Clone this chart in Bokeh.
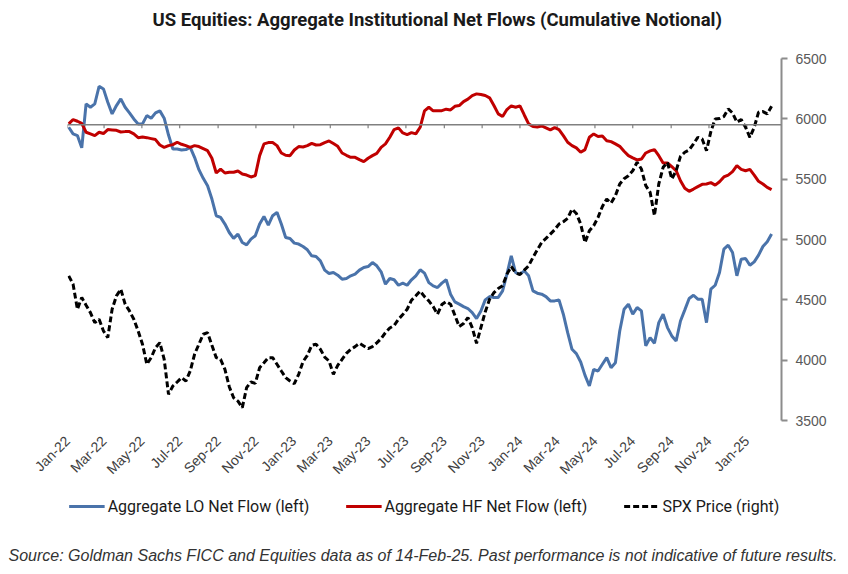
import pandas as pd
from bokeh.plotting import figure
from bokeh.layouts import column
from bokeh.models import (Range1d, LinearAxis, Legend, LegendItem, Title,
                          FixedTicker, DatetimeTickFormatter, Span)
from bokeh.embed import file_html
from bokeh.resources import INLINE

# ---------------- data (weekly) ----------------
start_date = "2022-01-03"
n_weeks = 163
# left-axis values (cumulative notional, zero = horizontal reference line)
lo_flow = [-20, -75, -89, -190, 174, 146, 174, 320, 298, 188, 91, 160, 215, 146, 99, 49, 8, 8, 77, 55,
           99, 116, 55, -84, -200, -200, -208, -205, -186, -269, -371, -443, -504, -615, -753, -767, -822, -892, -941, -905,
           -975, -994, -947, -919, -822, -759, -831, -753, -725, -822, -933, -941, -980, -988, -1008, -1035, -1085, -1091, -1127, -1204,
           -1232, -1224, -1246, -1279, -1273, -1251, -1237, -1204, -1182, -1174, -1141, -1168, -1218, -1320, -1273, -1284, -1329, -1312, -1329, -1284,
           -1251, -1201, -1229, -1307, -1334, -1348, -1312, -1284, -1403, -1467, -1486, -1506, -1522, -1556, -1605, -1542, -1450, -1423, -1431, -1430,
           -1376, -1237, -1085, -1224, -1237, -1210, -1251, -1376, -1395, -1403, -1423, -1459, -1459, -1450, -1569, -1722, -1860, -1896, -1965, -2076,
           -2164, -2026, -2040, -1984, -1929, -2012, -1971, -1708, -1528, -1486, -1569, -1514, -1542, -1832, -1763, -1810, -1639, -1569, -1680, -1749,
           -1791, -1625, -1533, -1439, -1412, -1445, -1445, -1639, -1362, -1329, -1224, -1030, -997, -1058, -1251, -1113, -1107, -1163, -1135, -1080,
           -1008, -969, -905]
hf_flow = [8, 44, 30, 13, -61, -75, -89, -61, -72, -39, -42, -45, -59, -56, -56, -75, -106, -100, -106, -114,
           -122, -167, -186, -172, -164, -144, -161, -172, -186, -172, -180, -197, -214, -277, -399, -366, -399, -393, -393, -382,
           -407, -416, -432, -421, -255, -158, -147, -147, -172, -233, -252, -255, -208, -180, -183, -172, -153, -167, -164, -147,
           -133, -155, -178, -233, -252, -269, -269, -288, -305, -277, -255, -236, -186, -158, -103, -39, -25, -67, -81, -64,
           -75, -20, 116, 146, 116, 116, 118, 130, 124, 154, 160, 193, 213, 243, 257, 251, 243, 224, 160, 91,
           69, 127, 157, 146, 157, 82, 8, -14, -17, -9, -25, -42, -23, -39, -89, -144, -172, -191, -227, -205,
           -103, -75, -97, -92, -131, -139, -158, -178, -219, -255, -274, -291, -283, -233, -216, -205, -255, -316, -316, -346,
           -380, -463, -526, -551, -532, -512, -493, -490, -479, -499, -471, -432, -416, -388, -338, -369, -380, -369, -416, -468,
           -490, -518, -537]
# right-axis values (S&P 500 price)
spx_price = [4699, 4630, 4422, 4519, 4455, 4394, 4311, 4339, 4242, 4187, 4422, 4533, 4588, 4464, 4408, 4339, 4242, 4132, 3966, 4021,
             4104, 4145, 4007, 3716, 3786, 3819, 3855, 3827, 3910, 4049, 4132, 4215, 4228, 4123, 4021, 4007, 3924, 3780, 3689, 3661,
             3606, 3772, 3819, 3808, 3938, 3979, 4021, 4021, 3966, 3910, 3855, 3827, 3805, 3883, 3988, 4040, 4123, 4132, 4090, 4026,
             3993, 3883, 3957, 4007, 4057, 4090, 4112, 4140, 4118, 4096, 4112, 4143, 4179, 4228, 4267, 4287, 4339, 4378, 4422, 4497,
             4533, 4572, 4527, 4491, 4444, 4381, 4461, 4486, 4464, 4372, 4278, 4303, 4353, 4270, 4140, 4270, 4400, 4505, 4560, 4594,
             4616, 4713, 4776, 4724, 4710, 4746, 4782, 4851, 4915, 4975, 5009, 5045, 5081, 5128, 5147, 5175, 5252, 5216, 5128, 4975,
             5072, 5114, 5183, 5274, 5335, 5302, 5363, 5460, 5504, 5529, 5570, 5640, 5584, 5446, 5391, 5197, 5460, 5598, 5640, 5501,
             5570, 5689, 5723, 5742, 5792, 5847, 5833, 5736, 5894, 5999, 6002, 6019, 6082, 6049, 5972, 5994, 5930, 5847, 5930, 6055,
             6060, 6041, 6104]

spx_ticks = [3500, 4000, 4500, 5000, 5500, 6000, 6500]
left_range = (-2450, 550)          # left axis span (hidden); 0 = reference line
right_range = (3500, 6500)
x_start, x_end = "2022-01-01", "2025-02-26"
tick_start, tick_end = "2022-01-01", "2025-01-01"

series_names = ["Aggregate LO Net Flow (left)", "Aggregate HF Net Flow (left)", "SPX Price (right)"]
series_colors = ["#4a73aa", "#c00000", "black"]
title_text = "US Equities: Aggregate Institutional Net Flows (Cumulative Notional)"
source_text = ("Source: Goldman Sachs FICC and Equities data as of 14-Feb-25. "
               "Past performance is not indicative of future results.")

# ---------------- chart ----------------
dates = pd.date_range(start_date, periods=n_weeks, freq="7D")
tick_dates = pd.date_range(tick_start, tick_end, freq="2MS")
tick_ms = [t.value // 10**6 for t in tick_dates]

p = figure(width=848, frame_width=714, frame_height=362,
           x_axis_type="datetime", y_axis_location=None,
           output_backend="svg", toolbar_location=None, title=None,
           x_range=Range1d(pd.Timestamp(x_start), pd.Timestamp(x_end)),
           y_range=Range1d(*left_range),
           min_border_left=67, min_border_right=67, min_border_top=0, min_border_bottom=68)
p.outline_line_color = None
p.grid.visible = False

xa = p.xaxis[0]
xa.ticker = FixedTicker(ticks=tick_ms)
fmt = "%b-%y"
xa.formatter = DatetimeTickFormatter(microseconds=fmt, milliseconds=fmt, seconds=fmt, minsec=fmt,
                                     minutes=fmt, hourmin=fmt, hours=fmt, days=fmt, months=fmt, years=fmt)
xa.major_label_orientation = 0.785398
xa.axis_line_color = None
xa.major_tick_line_color = None
xa.minor_tick_line_color = None
xa.major_label_standoff = 12
xa.major_label_text_font = "Liberation Sans"
xa.major_label_text_font_size = "14px"
xa.major_label_text_color = "#404040"

p.extra_y_ranges = {"spx": Range1d(*right_range)}
ra = LinearAxis(y_range_name="spx", ticker=FixedTicker(ticks=spx_ticks))
ra.axis_line_color = "#8c8c8c"
ra.axis_line_width = 2
ra.major_tick_line_color = "#8c8c8c"
ra.major_tick_line_width = 2
ra.major_tick_out = 6
ra.major_tick_in = 0
ra.minor_tick_line_color = None
ra.major_label_standoff = 8
ra.major_label_text_font = "Liberation Sans"
ra.major_label_text_font_size = "14px"
ra.major_label_text_color = "#595959"
p.add_layout(ra, "right")

# reference (zero) line with small date ticks
p.add_layout(Span(location=0, dimension="width", line_color="#808080", line_width=1.5))
p.segment(x0=tick_dates, y0=[0] * len(tick_dates), x1=tick_dates, y1=[-28] * len(tick_dates),
          line_color="#808080", line_width=1.2)

p.line(dates, lo_flow, line_color=series_colors[0], line_width=3)
p.line(dates, hf_flow, line_color=series_colors[1], line_width=3)
p.line(dates, spx_price, y_range_name="spx", line_color=series_colors[2], line_width=3, line_dash="6 3")

# ---- above: spacer (next to frame) then the title ----
p.add_layout(Title(text=" ", text_font_size="1px", standoff=17), "above")
p.add_layout(Title(text=title_text, align="left", offset=85, vertical_align="middle",
                   text_font="Roboto", text_font_size="18.5px", text_font_style="bold",
                   text_color="#1a1a1a", standoff=14), "above")

# ---------------- legend + source strip ----------------
q = figure(width=848, height=86, output_backend="svg", toolbar_location=None,
           x_range=Range1d(0, 1), y_range=Range1d(0, 1),
           x_axis_location=None, y_axis_location=None,
           min_border_left=67, min_border_right=67, min_border_top=0, min_border_bottom=0)
q.outline_line_color = None
q.grid.visible = False
# legend keys (their points sit outside the strip's visible range)
key_x, key_y = [2, 3], [2, 2]
g_lo = q.line(key_x, key_y, line_color=series_colors[0], line_width=3)
g_hf = q.line(key_x, key_y, line_color=series_colors[1], line_width=3)
g_spx = q.line(key_x, key_y, line_color=series_colors[2], line_width=3, line_dash="6 3")
legend = Legend(items=[LegendItem(label=series_names[0], renderers=[g_lo]),
                       LegendItem(label=series_names[1], renderers=[g_hf]),
                       LegendItem(label=series_names[2], renderers=[g_spx])],
                orientation="horizontal", location="top_center",
                label_text_font="Roboto", label_text_font_size="16px", label_text_color="#1a1a1a",
                glyph_width=36, glyph_height=20, label_height=20, label_standoff=3, spacing=36,
                border_line_color=None, background_fill_alpha=0, margin=8, padding=0)
q.add_layout(legend, "center")
q.add_layout(Title(text=source_text, align="left", offset=-59, text_font="Liberation Sans",
                   text_font_size="16px", text_font_style="italic", text_color="#333333",
                   standoff=22), "below")

layout = column(p, q, spacing=0)
open("out.html", "w").write(file_html(layout, INLINE))
